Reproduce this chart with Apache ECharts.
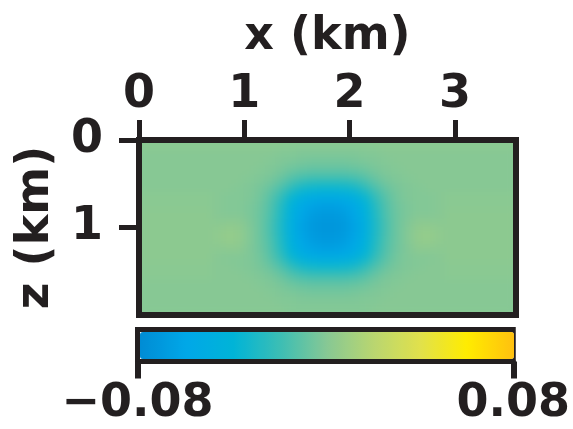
<!DOCTYPE html>
<html>
<head>
<meta charset="utf-8">
<script src="https://cdn.jsdelivr.net/npm/echarts@6/dist/echarts.min.js"></script>
<style>
  html, body { margin: 0; padding: 0; background: #ffffff; }
  #stage { position: relative; width: 573px; height: 429px; overflow: hidden; }
  #fieldClip { position: absolute; left: 139px; top: 140px; width: 377px; height: 175px; overflow: hidden; background: #87c894; }
  #field { position: absolute; left: -139px; top: -140px; width: 573px; height: 429px; filter: blur(5px); }
  #main { position: absolute; left: 0; top: 0; width: 573px; height: 429px; }
</style>
</head>
<body>
<div id="stage">
  <div id="fieldClip"><div id="field"></div></div>
  <div id="main"></div>
</div>
<script>
// Cell centres (km) of the gridded perturbation field
const xKm = [0.05, 0.15, 0.25, 0.35, 0.45, 0.55, 0.65, 0.75, 0.85, 0.95, 1.05, 1.15,
             1.25, 1.35, 1.45, 1.55, 1.65, 1.75, 1.85, 1.95, 2.05, 2.15, 2.25, 2.35,
             2.45, 2.55, 2.65, 2.75, 2.85, 2.95, 3.05, 3.15, 3.25, 3.35, 3.45, 3.55];
const zKm = [0.05, 0.15, 0.25, 0.35, 0.45, 0.55, 0.65, 0.75, 0.85, 0.95,
             1.05, 1.15, 1.25, 1.35, 1.45, 1.55, 1.65, 1.75, 1.85, 1.95];

// Perturbation values, one row per depth (top to bottom), one entry per x cell
const field = [
  [0.002,0.002,0.002,0.002,0.002,0.002,0.002, 0.002,0.002,0.002,0.002,0.002,0.002,0.002,0.001,0.001,0.001,0.001, 0.001,0.001,0.001,0.001,0.002,0.002,0.002,0.002,0.002,0.002,0.002, 0.002,0.002,0.002,0.002,0.002,0.002,0.002],
  [0,0,0,0,0,0,0, 0,0,0,0,0,0,-0.001,-0.001,-0.002,-0.002,-0.002, -0.002,-0.002,-0.002,-0.001,-0.001,0,0,0,0,0,0, 0,0,0,0,0,0,0],
  [0,0,0,0,0,0,0, 0,0,0,0,0,-0.001,-0.002,-0.003,-0.004,-0.005,-0.005, -0.005,-0.005,-0.004,-0.003,-0.002,-0.001,0,0,0,0,0, 0,0,0,0,0,0,0],
  [0,0,0,0,0,0,0, 0,0,0,0,-0.001,-0.002,-0.004,-0.007,-0.009,-0.010,-0.010, -0.010,-0.010,-0.009,-0.007,-0.004,-0.002,-0.001,0,0,0,0, 0,0,0,0,0,0,0],
  [0,0,0,0,0,0,0, 0,0,0,-0.001,-0.002,-0.004,-0.008,-0.014,-0.018,-0.020,-0.020, -0.020,-0.020,-0.018,-0.014,-0.008,-0.004,-0.002,-0.001,0,0,0, 0,0,0,0,0,0,0],
  [0,0,0,0,0,0,0, 0,0,-0.001,-0.002,-0.004,-0.008,-0.015,-0.024,-0.032,-0.035,-0.036, -0.036,-0.035,-0.032,-0.024,-0.015,-0.008,-0.004,-0.002,-0.001,0,0, 0,0,0,0,0,0,0],
  [0.001,0.001,0.001,0.001,0.001,0.001,0.001, 0,-0.001,-0.001,-0.002,-0.005,-0.012,-0.022,-0.036,-0.047,-0.052,-0.053, -0.053,-0.052,-0.047,-0.036,-0.022,-0.012,-0.005,-0.002,-0.001,-0.001,0, 0.001,0.001,0.001,0.001,0.001,0.001,0.001],
  [0.001,0.001,0.001,0.001,0.001,0.001,0.001, 0,-0.001,-0.001,-0.003,-0.006,-0.014,-0.027,-0.044,-0.057,-0.063,-0.065, -0.065,-0.063,-0.057,-0.044,-0.027,-0.014,-0.006,-0.003,-0.001,-0.001,0, 0.001,0.001,0.001,0.001,0.001,0.001,0.001],
  [0.002,0.002,0.002,0.002,0.002,0.002,0.002, 0,-0.001,-0.001,-0.003,-0.007,-0.015,-0.029,-0.047,-0.061,-0.068,-0.070, -0.070,-0.068,-0.061,-0.047,-0.029,-0.015,-0.007,-0.003,-0.001,-0.001,0, 0.002,0.002,0.002,0.002,0.002,0.002,0.002],
  [0.002,0.002,0.002,0.002,0.002,0.002,0.002, 0.001,0.002,0.002,-0.002,-0.007,-0.016,-0.030,-0.049,-0.063,-0.070,-0.072, -0.072,-0.070,-0.063,-0.049,-0.030,-0.016,-0.007,-0.002,0.002,0.002,0.001, 0.002,0.002,0.002,0.002,0.002,0.002,0.002],
  [0.002,0.002,0.002,0.002,0.002,0.002,0.002, 0.003,0.005,0.004,-0.001,-0.007,-0.016,-0.030,-0.049,-0.063,-0.070,-0.072, -0.072,-0.070,-0.063,-0.049,-0.030,-0.016,-0.007,-0.001,0.004,0.005,0.003, 0.002,0.002,0.002,0.002,0.002,0.002,0.002],
  [0.002,0.002,0.002,0.002,0.002,0.002,0.002, 0.003,0.005,0.004,-0.001,-0.007,-0.015,-0.029,-0.047,-0.061,-0.068,-0.070, -0.070,-0.068,-0.061,-0.047,-0.029,-0.015,-0.007,-0.001,0.004,0.005,0.003, 0.002,0.002,0.002,0.002,0.002,0.002,0.002],
  [0.002,0.002,0.002,0.002,0.002,0.002,0.002, 0.001,0.002,0.002,-0.002,-0.006,-0.014,-0.027,-0.044,-0.057,-0.063,-0.065, -0.065,-0.063,-0.057,-0.044,-0.027,-0.014,-0.006,-0.002,0.002,0.002,0.001, 0.002,0.002,0.002,0.002,0.002,0.002,0.002],
  [0.002,0.002,0.002,0.002,0.002,0.002,0.002, 0,-0.001,-0.001,-0.002,-0.005,-0.012,-0.022,-0.036,-0.047,-0.052,-0.053, -0.053,-0.052,-0.047,-0.036,-0.022,-0.012,-0.005,-0.002,-0.001,-0.001,0, 0.002,0.002,0.002,0.002,0.002,0.002,0.002],
  [0.001,0.001,0.001,0.001,0.001,0.001,0.001, 0,0,-0.001,-0.002,-0.004,-0.008,-0.015,-0.024,-0.032,-0.035,-0.036, -0.036,-0.035,-0.032,-0.024,-0.015,-0.008,-0.004,-0.002,-0.001,0,0, 0.001,0.001,0.001,0.001,0.001,0.001,0.001],
  [0.001,0.001,0.001,0.001,0.001,0.001,0.001, 0,0,0,-0.001,-0.002,-0.004,-0.008,-0.014,-0.018,-0.020,-0.020, -0.020,-0.020,-0.018,-0.014,-0.008,-0.004,-0.002,-0.001,0,0,0, 0.001,0.001,0.001,0.001,0.001,0.001,0.001],
  [0,0,0,0,0,0,0, 0,0,0,0,-0.001,-0.002,-0.004,-0.007,-0.009,-0.010,-0.010, -0.010,-0.010,-0.009,-0.007,-0.004,-0.002,-0.001,0,0,0,0, 0,0,0,0,0,0,0],
  [0,0,0,0,0,0,0, 0,0,0,0,0,-0.001,-0.002,-0.003,-0.004,-0.005,-0.005, -0.005,-0.005,-0.004,-0.003,-0.002,-0.001,0,0,0,0,0, 0,0,0,0,0,0,0],
  [0,0,0,0,0,0,0, 0,0,0,0,0,0,-0.001,-0.001,-0.002,-0.002,-0.002, -0.002,-0.002,-0.002,-0.001,-0.001,0,0,0,0,0,0, 0,0,0,0,0,0,0],
  [0,0,0,0,0,0,0, 0,0,0,0,0,0,0,-0.001,-0.001,-0.001,-0.001, -0.001,-0.001,-0.001,-0.001,0,0,0,0,0,0,0, 0,0,0,0,0,0,0]
];

// Axis ticks and labels
const xTicks = [0, 1, 2, 3];
const zTicks = [0, 1];
const scaleTicks = [-0.08, 0.08];
const xRange = [0, 3.58];
const zRange = [0, 2.0];
const scaleRange = [-0.08, 0.08];
const cellSize = 0.1;

const palette = ['#008cd4', '#00a8e8', '#00b4d7', '#3cbeb4', '#87c894',
                 '#b9d670', '#e1e14b', '#ffec00', '#ffc00f'];
const ink = '#231f20';
const bigText = { fontFamily: 'DejaVu Sans', fontWeight: 'bold', fontSize: 46, color: ink };

const plotGrid = { left: 139, top: 140, width: 377, height: 175 };

// Flatten the field into [x, z, value] records
const cells = [];
field.forEach((row, j) => row.forEach((v, i) => cells.push([xKm[i], zKm[j], v])));

// --- Field layer ---
const fieldChart = echarts.init(document.getElementById('field'), null, { renderer: 'canvas' });
fieldChart.setOption({
  animation: false,
  grid: Object.assign({ show: false }, plotGrid),
  xAxis: { type: 'value', min: xRange[0], max: xRange[1], show: false },
  yAxis: { type: 'value', min: zRange[0], max: zRange[1], inverse: true, show: false },
  visualMap: {
    type: 'continuous', show: false, dimension: 2,
    min: scaleRange[0], max: scaleRange[1],
    inRange: { color: palette }
  },
  series: [{
    type: 'custom',
    encode: { x: 0, y: 1 },
    data: cells,
    renderItem: function (params, api) {
      const x = api.value(0), z = api.value(1), h = cellSize / 2;
      const a = api.coord([x - h, z - h]);
      const b = api.coord([x + h, z + h]);
      return {
        type: 'rect',
        shape: {
          x: Math.min(a[0], b[0]) - 0.5, y: Math.min(a[1], b[1]) - 0.5,
          width: Math.abs(b[0] - a[0]) + 1, height: Math.abs(b[1] - a[1]) + 1
        },
        style: { fill: api.visual('color') }
      };
    }
  }]
});

// --- Frame, axes and colour scale ---
const mainChart = echarts.init(document.getElementById('main'), null, { renderer: 'canvas' });
mainChart.setOption({
  animation: false,
  backgroundColor: 'transparent',
  grid: [
    Object.assign({ show: true, borderWidth: 6, borderColor: ink, backgroundColor: 'transparent' }, plotGrid),
    { show: true, left: 137.5, top: 329.5, width: 379, height: 32, borderWidth: 5, borderColor: ink, backgroundColor: 'transparent' }
  ],
  xAxis: [
    {
      gridIndex: 0, type: 'value', position: 'top', min: xRange[0], max: xRange[1],
      axisLine: { show: false },
      axisTick: { show: true, inside: false, length: 20, customValues: xTicks, lineStyle: { width: 5, color: ink } },
      axisLabel: Object.assign({ margin: 22, customValues: xTicks }, bigText),
      splitLine: { show: false },
      name: 'x (km)', nameLocation: 'middle', nameGap: 80, nameTextStyle: bigText
    },
    {
      gridIndex: 1, type: 'value', position: 'bottom', min: scaleRange[0], max: scaleRange[1],
      axisLine: { show: true, lineStyle: { width: 5, color: ink } },
      axisTick: { show: true, inside: false, length: 17, customValues: scaleTicks, lineStyle: { width: 6, color: ink } },
      axisLabel: Object.assign({
        margin: 20, customValues: scaleTicks,
        formatter: v => (v < 0 ? '\u2212' : '') + Math.abs(v).toFixed(2)
      }, bigText),
      splitLine: { show: false }
    }
  ],
  yAxis: [
    {
      gridIndex: 0, type: 'value', inverse: true, min: zRange[0], max: zRange[1],
      axisLine: { show: false },
      axisTick: { show: true, inside: false, length: 20, customValues: zTicks, lineStyle: { width: 5, color: ink } },
      axisLabel: Object.assign({ margin: 36, customValues: zTicks }, bigText),
      splitLine: { show: false },
      name: 'z (km)', nameLocation: 'middle', nameGap: 80, nameRotate: 90, nameTextStyle: bigText
    },
    { gridIndex: 1, type: 'value', min: 0, max: 1, show: false }
  ],
  visualMap: {
    type: 'continuous', show: true, orient: 'horizontal',
    left: 140, top: 332, itemWidth: 27, itemHeight: 374, padding: 0,
    min: scaleRange[0], max: scaleRange[1], calculable: false, text: null,
    inRange: { color: palette }, seriesIndex: []
  },
  series: []
});
</script>
</body>
</html>
